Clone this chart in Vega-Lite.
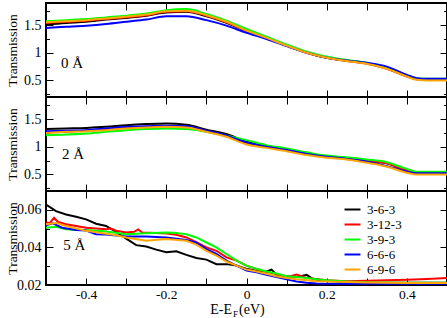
{
"$schema":"https://vega.github.io/schema/vega-lite/v6.json",
"padding":{"left":3,"top":1,"right":0,"bottom":0},
"spacing":0,
"bounds":"flush",
"config":{"view":{"stroke":"#000","strokeWidth":2},"font":"Liberation Serif, Times New Roman, serif",
 "axis":{"labelFont":"Liberation Serif, Times New Roman, serif","labelFontSize":14,"labelColor":"#000","titleFont":"Liberation Serif, Times New Roman, serif","titleFontSize":13.5,"titleFontWeight":"normal","titleColor":"#000","tickColor":"#000","tickWidth":1,"domain":false,"grid":false,"labelFlush":false,"labelOverlap":false,"labelBound":false},
 "axisX":{"labelFontSize":13.5},
 "legend":{"labelFont":"Liberation Serif, Times New Roman, serif"},
 "text":{"font":"Liberation Serif, Times New Roman, serif"}},
"resolve":{"scale":{"color":"independent"},"legend":{"color":"independent"}},
"datasets":{
"d0":[
{"s":"3-6-3","x":-0.5,"T":1.51},{"s":"3-6-3","x":-0.45,"T":1.54},{"s":"3-6-3","x":-0.4,"T":1.56},{"s":"3-6-3","x":-0.35,"T":1.6},{"s":"3-6-3","x":-0.3,"T":1.63},{"s":"3-6-3","x":-0.25,"T":1.67},{"s":"3-6-3","x":-0.2,"T":1.73},{"s":"3-6-3","x":-0.15,"T":1.74},{"s":"3-6-3","x":-0.1,"T":1.66},{"s":"3-6-3","x":-0.05,"T":1.54},{"s":"3-6-3","x":0,"T":1.39},{"s":"3-6-3","x":0.05,"T":1.27},{"s":"3-6-3","x":0.1,"T":1.13},{"s":"3-6-3","x":0.15,"T":1.0},{"s":"3-6-3","x":0.2,"T":0.91},{"s":"3-6-3","x":0.25,"T":0.86},{"s":"3-6-3","x":0.3,"T":0.81},{"s":"3-6-3","x":0.35,"T":0.72},{"s":"3-6-3","x":0.4,"T":0.58},{"s":"3-6-3","x":0.425,"T":0.53},{"s":"3-6-3","x":0.45,"T":0.52},{"s":"3-6-3","x":0.5,"T":0.52},
{"s":"3-12-3","x":-0.5,"T":1.54},{"s":"3-12-3","x":-0.45,"T":1.56},{"s":"3-12-3","x":-0.4,"T":1.58},{"s":"3-12-3","x":-0.35,"T":1.61},{"s":"3-12-3","x":-0.3,"T":1.64},{"s":"3-12-3","x":-0.25,"T":1.68},{"s":"3-12-3","x":-0.2,"T":1.74},{"s":"3-12-3","x":-0.15,"T":1.75},{"s":"3-12-3","x":-0.1,"T":1.67},{"s":"3-12-3","x":-0.05,"T":1.55},{"s":"3-12-3","x":0,"T":1.4},{"s":"3-12-3","x":0.05,"T":1.27},{"s":"3-12-3","x":0.1,"T":1.13},{"s":"3-12-3","x":0.15,"T":1.0},{"s":"3-12-3","x":0.2,"T":0.91},{"s":"3-12-3","x":0.25,"T":0.85},{"s":"3-12-3","x":0.3,"T":0.8},{"s":"3-12-3","x":0.35,"T":0.71},{"s":"3-12-3","x":0.4,"T":0.57},{"s":"3-12-3","x":0.425,"T":0.52},{"s":"3-12-3","x":0.45,"T":0.51},{"s":"3-12-3","x":0.5,"T":0.51},
{"s":"3-9-3","x":-0.5,"T":1.57},{"s":"3-9-3","x":-0.45,"T":1.59},{"s":"3-9-3","x":-0.4,"T":1.61},{"s":"3-9-3","x":-0.35,"T":1.64},{"s":"3-9-3","x":-0.3,"T":1.67},{"s":"3-9-3","x":-0.25,"T":1.71},{"s":"3-9-3","x":-0.2,"T":1.77},{"s":"3-9-3","x":-0.15,"T":1.79},{"s":"3-9-3","x":-0.1,"T":1.7},{"s":"3-9-3","x":-0.05,"T":1.58},{"s":"3-9-3","x":0,"T":1.43},{"s":"3-9-3","x":0.05,"T":1.29},{"s":"3-9-3","x":0.1,"T":1.15},{"s":"3-9-3","x":0.15,"T":1.02},{"s":"3-9-3","x":0.2,"T":0.93},{"s":"3-9-3","x":0.25,"T":0.87},{"s":"3-9-3","x":0.3,"T":0.82},{"s":"3-9-3","x":0.35,"T":0.73},{"s":"3-9-3","x":0.4,"T":0.59},{"s":"3-9-3","x":0.425,"T":0.54},{"s":"3-9-3","x":0.45,"T":0.53},{"s":"3-9-3","x":0.5,"T":0.53},
{"s":"6-6-6","x":-0.5,"T":1.45},{"s":"6-6-6","x":-0.45,"T":1.47},{"s":"6-6-6","x":-0.4,"T":1.49},{"s":"6-6-6","x":-0.35,"T":1.52},{"s":"6-6-6","x":-0.3,"T":1.56},{"s":"6-6-6","x":-0.25,"T":1.6},{"s":"6-6-6","x":-0.2,"T":1.66},{"s":"6-6-6","x":-0.15,"T":1.66},{"s":"6-6-6","x":-0.1,"T":1.59},{"s":"6-6-6","x":-0.05,"T":1.49},{"s":"6-6-6","x":0,"T":1.36},{"s":"6-6-6","x":0.05,"T":1.25},{"s":"6-6-6","x":0.1,"T":1.12},{"s":"6-6-6","x":0.15,"T":1.0},{"s":"6-6-6","x":0.2,"T":0.91},{"s":"6-6-6","x":0.25,"T":0.86},{"s":"6-6-6","x":0.3,"T":0.82},{"s":"6-6-6","x":0.35,"T":0.75},{"s":"6-6-6","x":0.4,"T":0.6},{"s":"6-6-6","x":0.425,"T":0.54},{"s":"6-6-6","x":0.45,"T":0.53},{"s":"6-6-6","x":0.5,"T":0.53},
{"s":"6-9-6","x":-0.5,"T":1.55},{"s":"6-9-6","x":-0.45,"T":1.57},{"s":"6-9-6","x":-0.4,"T":1.59},{"s":"6-9-6","x":-0.35,"T":1.62},{"s":"6-9-6","x":-0.3,"T":1.65},{"s":"6-9-6","x":-0.25,"T":1.69},{"s":"6-9-6","x":-0.2,"T":1.75},{"s":"6-9-6","x":-0.15,"T":1.76},{"s":"6-9-6","x":-0.1,"T":1.68},{"s":"6-9-6","x":-0.05,"T":1.56},{"s":"6-9-6","x":0,"T":1.4},{"s":"6-9-6","x":0.05,"T":1.27},{"s":"6-9-6","x":0.1,"T":1.13},{"s":"6-9-6","x":0.15,"T":1.0},{"s":"6-9-6","x":0.2,"T":0.91},{"s":"6-9-6","x":0.25,"T":0.85},{"s":"6-9-6","x":0.3,"T":0.8},{"s":"6-9-6","x":0.35,"T":0.71},{"s":"6-9-6","x":0.4,"T":0.57},{"s":"6-9-6","x":0.425,"T":0.51},{"s":"6-9-6","x":0.45,"T":0.5},{"s":"6-9-6","x":0.5,"T":0.5}
],
"d2":[
{"s":"3-6-3","x":-0.5,"T":1.32},{"s":"3-6-3","x":-0.45,"T":1.33},{"s":"3-6-3","x":-0.4,"T":1.34},{"s":"3-6-3","x":-0.35,"T":1.36},{"s":"3-6-3","x":-0.3,"T":1.39},{"s":"3-6-3","x":-0.25,"T":1.41},{"s":"3-6-3","x":-0.2,"T":1.42},{"s":"3-6-3","x":-0.15,"T":1.4},{"s":"3-6-3","x":-0.1,"T":1.31},{"s":"3-6-3","x":-0.05,"T":1.23},{"s":"3-6-3","x":0,"T":1.09},{"s":"3-6-3","x":0.05,"T":1.01},{"s":"3-6-3","x":0.1,"T":0.95},{"s":"3-6-3","x":0.15,"T":0.88},{"s":"3-6-3","x":0.2,"T":0.83},{"s":"3-6-3","x":0.25,"T":0.79},{"s":"3-6-3","x":0.3,"T":0.75},{"s":"3-6-3","x":0.35,"T":0.7},{"s":"3-6-3","x":0.4,"T":0.57},{"s":"3-6-3","x":0.425,"T":0.53},{"s":"3-6-3","x":0.45,"T":0.53},{"s":"3-6-3","x":0.5,"T":0.53},
{"s":"3-12-3","x":-0.5,"T":1.26},{"s":"3-12-3","x":-0.45,"T":1.27},{"s":"3-12-3","x":-0.4,"T":1.29},{"s":"3-12-3","x":-0.35,"T":1.31},{"s":"3-12-3","x":-0.3,"T":1.34},{"s":"3-12-3","x":-0.25,"T":1.36},{"s":"3-12-3","x":-0.2,"T":1.37},{"s":"3-12-3","x":-0.15,"T":1.36},{"s":"3-12-3","x":-0.1,"T":1.28},{"s":"3-12-3","x":-0.05,"T":1.19},{"s":"3-12-3","x":0,"T":1.07},{"s":"3-12-3","x":0.05,"T":1.0},{"s":"3-12-3","x":0.1,"T":0.94},{"s":"3-12-3","x":0.15,"T":0.87},{"s":"3-12-3","x":0.2,"T":0.82},{"s":"3-12-3","x":0.25,"T":0.79},{"s":"3-12-3","x":0.3,"T":0.75},{"s":"3-12-3","x":0.35,"T":0.7},{"s":"3-12-3","x":0.4,"T":0.57},{"s":"3-12-3","x":0.425,"T":0.54},{"s":"3-12-3","x":0.45,"T":0.54},{"s":"3-12-3","x":0.5,"T":0.54},
{"s":"3-9-3","x":-0.5,"T":1.21},{"s":"3-9-3","x":-0.45,"T":1.22},{"s":"3-9-3","x":-0.4,"T":1.24},{"s":"3-9-3","x":-0.35,"T":1.27},{"s":"3-9-3","x":-0.3,"T":1.3},{"s":"3-9-3","x":-0.25,"T":1.32},{"s":"3-9-3","x":-0.2,"T":1.33},{"s":"3-9-3","x":-0.15,"T":1.32},{"s":"3-9-3","x":-0.1,"T":1.27},{"s":"3-9-3","x":-0.05,"T":1.2},{"s":"3-9-3","x":0,"T":1.12},{"s":"3-9-3","x":0.05,"T":1.03},{"s":"3-9-3","x":0.1,"T":0.97},{"s":"3-9-3","x":0.15,"T":0.9},{"s":"3-9-3","x":0.2,"T":0.84},{"s":"3-9-3","x":0.25,"T":0.81},{"s":"3-9-3","x":0.3,"T":0.77},{"s":"3-9-3","x":0.35,"T":0.72},{"s":"3-9-3","x":0.4,"T":0.6},{"s":"3-9-3","x":0.425,"T":0.55},{"s":"3-9-3","x":0.45,"T":0.55},{"s":"3-9-3","x":0.5,"T":0.55},
{"s":"6-6-6","x":-0.5,"T":1.28},{"s":"6-6-6","x":-0.45,"T":1.29},{"s":"6-6-6","x":-0.4,"T":1.3},{"s":"6-6-6","x":-0.35,"T":1.33},{"s":"6-6-6","x":-0.3,"T":1.36},{"s":"6-6-6","x":-0.25,"T":1.37},{"s":"6-6-6","x":-0.2,"T":1.38},{"s":"6-6-6","x":-0.15,"T":1.37},{"s":"6-6-6","x":-0.1,"T":1.29},{"s":"6-6-6","x":-0.05,"T":1.2},{"s":"6-6-6","x":0,"T":1.08},{"s":"6-6-6","x":0.05,"T":1.0},{"s":"6-6-6","x":0.1,"T":0.94},{"s":"6-6-6","x":0.15,"T":0.87},{"s":"6-6-6","x":0.2,"T":0.82},{"s":"6-6-6","x":0.25,"T":0.78},{"s":"6-6-6","x":0.3,"T":0.73},{"s":"6-6-6","x":0.35,"T":0.65},{"s":"6-6-6","x":0.4,"T":0.55},{"s":"6-6-6","x":0.425,"T":0.52},{"s":"6-6-6","x":0.45,"T":0.52},{"s":"6-6-6","x":0.5,"T":0.52},
{"s":"6-9-6","x":-0.5,"T":1.25},{"s":"6-9-6","x":-0.45,"T":1.27},{"s":"6-9-6","x":-0.4,"T":1.28},{"s":"6-9-6","x":-0.35,"T":1.3},{"s":"6-9-6","x":-0.3,"T":1.33},{"s":"6-9-6","x":-0.25,"T":1.35},{"s":"6-9-6","x":-0.2,"T":1.36},{"s":"6-9-6","x":-0.15,"T":1.35},{"s":"6-9-6","x":-0.1,"T":1.27},{"s":"6-9-6","x":-0.05,"T":1.18},{"s":"6-9-6","x":0,"T":1.04},{"s":"6-9-6","x":0.05,"T":0.98},{"s":"6-9-6","x":0.1,"T":0.92},{"s":"6-9-6","x":0.15,"T":0.85},{"s":"6-9-6","x":0.2,"T":0.8},{"s":"6-9-6","x":0.25,"T":0.77},{"s":"6-9-6","x":0.3,"T":0.71},{"s":"6-9-6","x":0.35,"T":0.64},{"s":"6-9-6","x":0.4,"T":0.53},{"s":"6-9-6","x":0.425,"T":0.5},{"s":"6-9-6","x":0.45,"T":0.5},{"s":"6-9-6","x":0.5,"T":0.5}
],
"d5":[
{"s":"3-6-3","x":-0.5,"T":0.0628},{"s":"3-6-3","x":-0.475,"T":0.0593},{"s":"3-6-3","x":-0.45,"T":0.0575},{"s":"3-6-3","x":-0.425,"T":0.0563},{"s":"3-6-3","x":-0.4,"T":0.0549},{"s":"3-6-3","x":-0.375,"T":0.0526},{"s":"3-6-3","x":-0.35,"T":0.0514},{"s":"3-6-3","x":-0.325,"T":0.0482},{"s":"3-6-3","x":-0.3,"T":0.0447},{"s":"3-6-3","x":-0.275,"T":0.0412},{"s":"3-6-3","x":-0.25,"T":0.0405},{"s":"3-6-3","x":-0.225,"T":0.0388},{"s":"3-6-3","x":-0.2,"T":0.0374},{"s":"3-6-3","x":-0.175,"T":0.0379},{"s":"3-6-3","x":-0.15,"T":0.036},{"s":"3-6-3","x":-0.125,"T":0.0344},{"s":"3-6-3","x":-0.1,"T":0.0335},{"s":"3-6-3","x":-0.075,"T":0.0311},{"s":"3-6-3","x":-0.05,"T":0.0311},{"s":"3-6-3","x":-0.025,"T":0.0304},{"s":"3-6-3","x":0,"T":0.0286},{"s":"3-6-3","x":0.025,"T":0.0275},{"s":"3-6-3","x":0.05,"T":0.0272},{"s":"3-6-3","x":0.0625,"T":0.0282},{"s":"3-6-3","x":0.075,"T":0.0254},{"s":"3-6-3","x":0.1,"T":0.0247},{"s":"3-6-3","x":0.125,"T":0.0242},{"s":"3-6-3","x":0.15,"T":0.0254},{"s":"3-6-3","x":0.167,"T":0.023},{"s":"3-6-3","x":0.2,"T":0.0223},{"s":"3-6-3","x":0.25,"T":0.0216},{"s":"3-6-3","x":0.3,"T":0.0212},{"s":"3-6-3","x":0.4,"T":0.0212},{"s":"3-6-3","x":0.5,"T":0.0212},
{"s":"3-12-3","x":-0.5,"T":0.0532},{"s":"3-12-3","x":-0.49,"T":0.053},{"s":"3-12-3","x":-0.48,"T":0.0558},{"s":"3-12-3","x":-0.47,"T":0.0535},{"s":"3-12-3","x":-0.45,"T":0.0523},{"s":"3-12-3","x":-0.425,"T":0.0514},{"s":"3-12-3","x":-0.4,"T":0.0505},{"s":"3-12-3","x":-0.375,"T":0.05},{"s":"3-12-3","x":-0.35,"T":0.0496},{"s":"3-12-3","x":-0.34,"T":0.0501},{"s":"3-12-3","x":-0.325,"T":0.0489},{"s":"3-12-3","x":-0.3,"T":0.0479},{"s":"3-12-3","x":-0.28,"T":0.0483},{"s":"3-12-3","x":-0.27,"T":0.0496},{"s":"3-12-3","x":-0.26,"T":0.0479},{"s":"3-12-3","x":-0.225,"T":0.0477},{"s":"3-12-3","x":-0.2,"T":0.0474},{"s":"3-12-3","x":-0.175,"T":0.0467},{"s":"3-12-3","x":-0.15,"T":0.0453},{"s":"3-12-3","x":-0.125,"T":0.0428},{"s":"3-12-3","x":-0.1,"T":0.04},{"s":"3-12-3","x":-0.075,"T":0.0382},{"s":"3-12-3","x":-0.05,"T":0.0347},{"s":"3-12-3","x":-0.025,"T":0.033},{"s":"3-12-3","x":0,"T":0.0303},{"s":"3-12-3","x":0.025,"T":0.0286},{"s":"3-12-3","x":0.05,"T":0.027},{"s":"3-12-3","x":0.075,"T":0.0258},{"s":"3-12-3","x":0.1,"T":0.0242},{"s":"3-12-3","x":0.125,"T":0.0256},{"s":"3-12-3","x":0.15,"T":0.0237},{"s":"3-12-3","x":0.175,"T":0.0232},{"s":"3-12-3","x":0.2,"T":0.0225},{"s":"3-12-3","x":0.25,"T":0.022},{"s":"3-12-3","x":0.3,"T":0.0223},{"s":"3-12-3","x":0.35,"T":0.0225},{"s":"3-12-3","x":0.4,"T":0.0228},{"s":"3-12-3","x":0.45,"T":0.0232},{"s":"3-12-3","x":0.5,"T":0.0237},
{"s":"3-9-3","x":-0.5,"T":0.0505},{"s":"3-9-3","x":-0.475,"T":0.051},{"s":"3-9-3","x":-0.45,"T":0.0496},{"s":"3-9-3","x":-0.425,"T":0.0493},{"s":"3-9-3","x":-0.4,"T":0.0493},{"s":"3-9-3","x":-0.35,"T":0.0484},{"s":"3-9-3","x":-0.3,"T":0.047},{"s":"3-9-3","x":-0.275,"T":0.0472},{"s":"3-9-3","x":-0.25,"T":0.0475},{"s":"3-9-3","x":-0.2,"T":0.0479},{"s":"3-9-3","x":-0.175,"T":0.0477},{"s":"3-9-3","x":-0.15,"T":0.047},{"s":"3-9-3","x":-0.125,"T":0.0453},{"s":"3-9-3","x":-0.1,"T":0.0426},{"s":"3-9-3","x":-0.075,"T":0.04},{"s":"3-9-3","x":-0.05,"T":0.0365},{"s":"3-9-3","x":-0.025,"T":0.033},{"s":"3-9-3","x":0,"T":0.0303},{"s":"3-9-3","x":0.025,"T":0.0286},{"s":"3-9-3","x":0.05,"T":0.0272},{"s":"3-9-3","x":0.075,"T":0.0261},{"s":"3-9-3","x":0.1,"T":0.0247},{"s":"3-9-3","x":0.125,"T":0.0242},{"s":"3-9-3","x":0.15,"T":0.0237},{"s":"3-9-3","x":0.175,"T":0.023},{"s":"3-9-3","x":0.2,"T":0.0225},{"s":"3-9-3","x":0.25,"T":0.0218},{"s":"3-9-3","x":0.3,"T":0.0214},{"s":"3-9-3","x":0.4,"T":0.0212},{"s":"3-9-3","x":0.5,"T":0.0212},
{"s":"6-6-6","x":-0.5,"T":0.0518},{"s":"6-6-6","x":-0.483,"T":0.0528},{"s":"6-6-6","x":-0.46,"T":0.0505},{"s":"6-6-6","x":-0.425,"T":0.0493},{"s":"6-6-6","x":-0.4,"T":0.049},{"s":"6-6-6","x":-0.375,"T":0.047},{"s":"6-6-6","x":-0.35,"T":0.0468},{"s":"6-6-6","x":-0.3,"T":0.0458},{"s":"6-6-6","x":-0.25,"T":0.0458},{"s":"6-6-6","x":-0.2,"T":0.0453},{"s":"6-6-6","x":-0.15,"T":0.044},{"s":"6-6-6","x":-0.125,"T":0.0425},{"s":"6-6-6","x":-0.1,"T":0.0391},{"s":"6-6-6","x":-0.075,"T":0.0365},{"s":"6-6-6","x":-0.05,"T":0.033},{"s":"6-6-6","x":-0.025,"T":0.0303},{"s":"6-6-6","x":0,"T":0.0277},{"s":"6-6-6","x":0.025,"T":0.0268},{"s":"6-6-6","x":0.05,"T":0.0254},{"s":"6-6-6","x":0.075,"T":0.0242},{"s":"6-6-6","x":0.1,"T":0.023},{"s":"6-6-6","x":0.125,"T":0.0219},{"s":"6-6-6","x":0.15,"T":0.0212},{"s":"6-6-6","x":0.175,"T":0.0208},{"s":"6-6-6","x":0.2,"T":0.0207},{"s":"6-6-6","x":0.3,"T":0.0206},{"s":"6-6-6","x":0.4,"T":0.0206},{"s":"6-6-6","x":0.5,"T":0.0206},
{"s":"6-9-6","x":-0.5,"T":0.0523},{"s":"6-9-6","x":-0.475,"T":0.053},{"s":"6-9-6","x":-0.45,"T":0.0514},{"s":"6-9-6","x":-0.4,"T":0.0488},{"s":"6-9-6","x":-0.375,"T":0.048},{"s":"6-9-6","x":-0.325,"T":0.0465},{"s":"6-9-6","x":-0.3,"T":0.0453},{"s":"6-9-6","x":-0.25,"T":0.0435},{"s":"6-9-6","x":-0.2,"T":0.0444},{"s":"6-9-6","x":-0.15,"T":0.0435},{"s":"6-9-6","x":-0.125,"T":0.0415},{"s":"6-9-6","x":-0.1,"T":0.0382},{"s":"6-9-6","x":-0.075,"T":0.0356},{"s":"6-9-6","x":-0.05,"T":0.0325},{"s":"6-9-6","x":-0.025,"T":0.0303},{"s":"6-9-6","x":0,"T":0.0282},{"s":"6-9-6","x":0.025,"T":0.0272},{"s":"6-9-6","x":0.05,"T":0.026},{"s":"6-9-6","x":0.075,"T":0.0247},{"s":"6-9-6","x":0.1,"T":0.0237},{"s":"6-9-6","x":0.125,"T":0.023},{"s":"6-9-6","x":0.15,"T":0.0225},{"s":"6-9-6","x":0.175,"T":0.022},{"s":"6-9-6","x":0.2,"T":0.0218},{"s":"6-9-6","x":0.3,"T":0.0213},{"s":"6-9-6","x":0.4,"T":0.0211},{"s":"6-9-6","x":0.5,"T":0.0211}
]},
"vconcat":[
{"width":401,"height":94,"data":{"name":"d0"},
 "resolve":{"axis":{"x":"independent","y":"independent"}},
 "layer":[
  {"mark":{"type":"line","strokeWidth":2,"interpolate":"monotone","clip":true},
   "encoding":{
    "x":{"field":"x","type":"quantitative","scale":{"domain":[-0.5,0.5],"nice":false,"zero":false},
      "axis":{"orient":"bottom","values":[-0.4,-0.3,-0.2,-0.1,0,0.1,0.2,0.3,0.4],"labels":false,"tickSize":-7,"title":null}},
    "y":{"field":"T","type":"quantitative","scale":{"domain":[0.2,1.9],"nice":false,"zero":false},
      "axis":{"orient":"left","values":[0.25,0.5,0.75,1,1.25,1.5,1.75],"labelExpr":"datum.value*2 == round(datum.value*2) ? '' + datum.value : ''","tickSize":{"condition":{"test":"datum.value*2 == round(datum.value*2)","value":-7},"value":-3.5},"labelPadding":12,"title":"Transmission","titleX":-30,"titleBaseline":"alphabetic"}},
    "color":{"field":"s","type":"nominal","scale":{"domain":["3-6-3","3-12-3","3-9-3","6-6-6","6-9-6"],"range":["#000000","#ff0000","#00ff00","#0000ff","#ffa500"]},"legend":null}}},
  {"mark":{"type":"point","opacity":0},
   "encoding":{
    "x":{"field":"x","type":"quantitative","scale":{"domain":[-0.5,0.5],"nice":false,"zero":false},
      "axis":{"orient":"top","values":[-0.4,-0.3,-0.2,-0.1,0,0.1,0.2,0.3,0.4],"labels":false,"tickSize":-7,"title":null}},
    "y":{"field":"T","type":"quantitative","scale":{"domain":[0.2,1.9],"nice":false,"zero":false},
      "axis":{"orient":"right","values":[0.25,0.5,0.75,1,1.25,1.5,1.75],"labels":false,"tickSize":{"condition":{"test":"datum.value*2 == round(datum.value*2)","value":-7},"value":-3.5},"title":null}}}},
  {"data":{"values":[{"label":"0 Å"}]},
   "mark":{"type":"text","fontSize":15,"align":"left","baseline":"alphabetic","color":"#000"},
   "encoding":{"x":{"datum":-0.4626,"type":"quantitative","axis":null},"y":{"datum":0.73,"type":"quantitative","axis":null},"text":{"field":"label"}}}
 ]},
{"width":401,"height":94,"data":{"name":"d2"},
 "resolve":{"axis":{"x":"independent","y":"independent"}},
 "layer":[
  {"mark":{"type":"line","strokeWidth":2,"interpolate":"monotone","clip":true},
   "encoding":{
    "x":{"field":"x","type":"quantitative","scale":{"domain":[-0.5,0.5],"nice":false,"zero":false},
      "axis":{"orient":"bottom","values":[-0.4,-0.3,-0.2,-0.1,0,0.1,0.2,0.3,0.4],"labels":false,"tickSize":-7,"title":null}},
    "y":{"field":"T","type":"quantitative","scale":{"domain":[0.2,1.9],"nice":false,"zero":false},
      "axis":{"orient":"left","values":[0.25,0.5,0.75,1,1.25,1.5,1.75],"labelExpr":"datum.value*2 == round(datum.value*2) ? '' + datum.value : ''","tickSize":{"condition":{"test":"datum.value*2 == round(datum.value*2)","value":-7},"value":-3.5},"labelPadding":12,"title":"Transmission","titleX":-30,"titleBaseline":"alphabetic"}},
    "color":{"field":"s","type":"nominal","scale":{"domain":["3-6-3","3-12-3","3-9-3","6-6-6","6-9-6"],"range":["#000000","#ff0000","#00ff00","#0000ff","#ffa500"]},"legend":null}}},
  {"mark":{"type":"point","opacity":0},
   "encoding":{
    "x":{"field":"x","type":"quantitative","scale":{"domain":[-0.5,0.5],"nice":false,"zero":false},
      "axis":{"orient":"top","values":[-0.4,-0.3,-0.2,-0.1,0,0.1,0.2,0.3,0.4],"labels":false,"tickSize":-7,"title":null}},
    "y":{"field":"T","type":"quantitative","scale":{"domain":[0.2,1.9],"nice":false,"zero":false},
      "axis":{"orient":"right","values":[0.25,0.5,0.75,1,1.25,1.5,1.75],"labels":false,"tickSize":{"condition":{"test":"datum.value*2 == round(datum.value*2)","value":-7},"value":-3.5},"title":null}}}},
  {"data":{"values":[{"label":"2 Å"}]},
   "mark":{"type":"text","fontSize":15,"align":"left","baseline":"alphabetic","color":"#000"},
   "encoding":{"x":{"datum":-0.46,"type":"quantitative","axis":null},"y":{"datum":0.78,"type":"quantitative","axis":null},"text":{"field":"label"}}}
 ]},
{"width":401,"height":94,"data":{"name":"d5"},
 "resolve":{"axis":{"x":"independent","y":"independent"}},
 "layer":[
  {"mark":{"type":"line","strokeWidth":2,"clip":true},
   "encoding":{
    "x":{"field":"x","type":"quantitative","scale":{"domain":[-0.5,0.5],"nice":false,"zero":false},
      "axis":{"orient":"bottom","values":[-0.4,-0.3,-0.2,-0.1,0,0.1,0.2,0.3,0.4],"labelExpr":"round(datum.value*10) % 2 == 0 ? '' + datum.value : ''","tickSize":-7,"labelPadding":9,"title":null}},
    "y":{"field":"T","type":"quantitative","scale":{"domain":[0.02,0.07],"nice":false,"zero":false},
      "axis":{"orient":"left","values":[0.02,0.03,0.04,0.05,0.06],"labelExpr":"round(datum.value*100) % 2 == 0 ? '' + datum.value : ''","tickSize":{"condition":{"test":"round(datum.value*100) % 2 == 0","value":-7},"value":-3.5},"labelPadding":12,"title":"Transmission","titleX":-30,"titleBaseline":"alphabetic"}},
    "color":{"field":"s","type":"nominal","scale":{"domain":["3-6-3","3-12-3","3-9-3","6-6-6","6-9-6"],"range":["#000000","#ff0000","#00ff00","#0000ff","#ffa500"]},
      "legend":{"orient":"none","legendX":299,"legendY":11,"title":null,"symbolType":"M-1.3,0H1.3","symbolStrokeWidth":2,"symbolSize":150,"labelFontSize":13,"labelColor":"#000","rowPadding":0,"labelOffset":7,"padding":0}}}},
  {"mark":{"type":"point","opacity":0},
   "encoding":{
    "x":{"field":"x","type":"quantitative","scale":{"domain":[-0.5,0.5],"nice":false,"zero":false},
      "axis":{"orient":"top","values":[-0.4,-0.3,-0.2,-0.1,0,0.1,0.2,0.3,0.4],"labels":false,"tickSize":-7,"title":null}},
    "y":{"field":"T","type":"quantitative","scale":{"domain":[0.02,0.07],"nice":false,"zero":false},
      "axis":{"orient":"right","values":[0.03,0.04,0.05,0.06],"labels":false,"tickSize":{"condition":{"test":"round(datum.value*100) % 2 == 0","value":-7},"value":-3.5},"title":null}}}},
  {"data":{"values":[{"label":"5 Å"}]},
   "mark":{"type":"text","fontSize":15,"align":"left","baseline":"alphabetic","color":"#000"},
   "encoding":{"x":{"datum":-0.457,"type":"quantitative","axis":null},"y":{"datum":0.0386,"type":"quantitative","axis":null},"text":{"field":"label"}}},
  {"data":{"values":[{"label":"E-E"}]},
   "mark":{"type":"text","fontSize":14,"align":"right","baseline":"alphabetic","dy":29,"color":"#000"},
   "encoding":{"x":{"datum":-0.0362,"type":"quantitative","axis":null},"y":{"datum":0.02,"type":"quantitative","axis":null},"text":{"field":"label"}}},
  {"data":{"values":[{"label":"F"}]},
   "mark":{"type":"text","fontSize":9,"align":"left","baseline":"alphabetic","dy":31.5,"color":"#000"},
   "encoding":{"x":{"datum":-0.0337,"type":"quantitative","axis":null},"y":{"datum":0.02,"type":"quantitative","axis":null},"text":{"field":"label"}}},
  {"data":{"values":[{"label":"(eV)"}]},
   "mark":{"type":"text","fontSize":14,"align":"left","baseline":"alphabetic","dy":29,"color":"#000"},
   "encoding":{"x":{"datum":-0.0187,"type":"quantitative","axis":null},"y":{"datum":0.02,"type":"quantitative","axis":null},"text":{"field":"label"}}}
 ]}
]
}
